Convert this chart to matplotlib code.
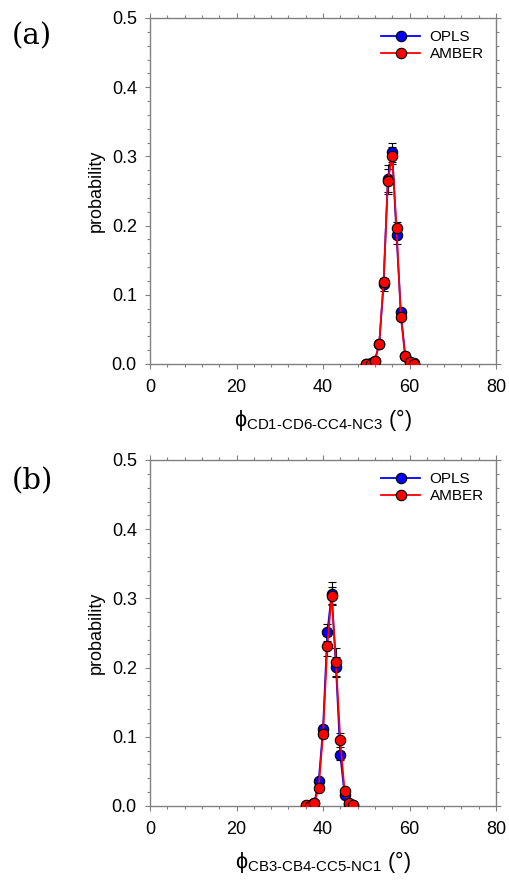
import numpy as np
import matplotlib
matplotlib.use('Agg')
import matplotlib.pyplot as plt
from matplotlib.ticker import MultipleLocator, FormatStrFormatter

plt.rcParams['font.family'] = ['Liberation Sans', 'DejaVu Sans']
plt.rcParams['mathtext.fontset'] = 'custom'
plt.rcParams['mathtext.rm'] = 'Liberation Sans'
plt.rcParams['mathtext.it'] = 'Liberation Sans:italic'

# panel (a): CD1-CD6-CC4-NC3
angle_a = [50, 51, 52, 53, 54, 55, 56, 57, 58, 59, 60, 61]
opls_a = [0.000, 0.001, 0.005, 0.029, 0.115, 0.268, 0.306, 0.186, 0.075, 0.012, 0.003, 0.001]
opls_a_err = [0.0, 0.0, 0.001, 0.003, 0.010, 0.020, 0.014, 0.012, 0.005, 0.002, 0.0, 0.0]
amber_a = [0.000, 0.000, 0.005, 0.029, 0.119, 0.264, 0.301, 0.197, 0.068, 0.011, 0.003, 0.000]
amber_a_err = [0.0, 0.0, 0.001, 0.002, 0.006, 0.018, 0.012, 0.008, 0.004, 0.002, 0.0, 0.0]

# panel (b): CB3-CB4-CC5-NC1
angle_b = [36, 37, 38, 39, 40, 41, 42, 43, 44, 45, 46, 47]
opls_b = [0.000, 0.001, 0.004, 0.036, 0.111, 0.251, 0.307, 0.201, 0.073, 0.016, 0.003, 0.001]
opls_b_err = [0.0, 0.0, 0.001, 0.003, 0.006, 0.012, 0.016, 0.014, 0.006, 0.003, 0.0, 0.0]
amber_b = [0.001, 0.000, 0.005, 0.026, 0.104, 0.231, 0.304, 0.208, 0.095, 0.021, 0.004, 0.001]
amber_b_err = [0.0, 0.0, 0.001, 0.002, 0.006, 0.014, 0.012, 0.020, 0.010, 0.003, 0.0, 0.0]

labels_x = ['ϕ' + r'$_{\mathrm{CD1\text{-}CD6\text{-}CC4\text{-}NC3}}$' + ' (°)',
            'ϕ' + r'$_{\mathrm{CB3\text{-}CB4\text{-}CC5\text{-}NC1}}$' + ' (°)']
panel_tags = ['(a)', '(b)']

fig = plt.figure(figsize=(5.1, 8.84), dpi=100)
ax_a = fig.add_axes([150/510, 1-364/884, 346/510, 346/884])
ax_b = fig.add_axes([150/510, 1-806/884, 346/510, 346/884])

panels = [(ax_a, angle_a, opls_a, opls_a_err, amber_a, amber_a_err),
          (ax_b, angle_b, opls_b, opls_b_err, amber_b, amber_b_err)]

for i, (ax, x, yo, eo, ya, ea) in enumerate(panels):
    ax.errorbar(x, yo, yerr=eo, fmt='none', ecolor='black', elinewidth=0.8,
                capsize=3, capthick=0.8, zorder=1)
    ax.errorbar(x, ya, yerr=ea, fmt='none', ecolor='black', elinewidth=0.8,
                capsize=3, capthick=0.8, zorder=1)
    ax.plot(x, yo, '-o', color='#0000ff', lw=1.3, ms=7.5, mfc='#0000ff',
            mec='black', mew=0.8, label='OPLS', zorder=3)
    ax.plot(x, ya, '-o', color='#ff0000', lw=1.3, ms=7.5, mfc='#ff0000',
            mec='black', mew=0.8, label='AMBER', zorder=4)

    ax.set_xlim(0, 80)
    ax.set_ylim(0, 0.5)
    ax.xaxis.set_major_locator(MultipleLocator(20))
    ax.xaxis.set_minor_locator(MultipleLocator(4))
    ax.yaxis.set_major_locator(MultipleLocator(0.1))
    ax.yaxis.set_minor_locator(MultipleLocator(0.02))
    ax.yaxis.set_major_formatter(FormatStrFormatter('%.1f'))
    ax.tick_params(which='both', direction='out', top=True, right=True,
                   colors='#808080', labelcolor='black', labelsize=13)
    ax.tick_params(which='major', length=3.5, width=0.8)
    ax.tick_params(which='minor', length=2.5, width=0.8)
    ax.tick_params(axis='x', pad=7)
    ax.tick_params(axis='y', pad=6)
    ax.tick_params(labeltop=False, labelright=False)
    for s in ax.spines.values():
        s.set_color('#808080')
        s.set_linewidth(1.0)

    ax.set_ylabel('probability', fontsize=13, labelpad=5)
    ax.set_xlabel(labels_x[i], fontsize=15.5, labelpad=8)
    ax.legend(loc='upper right', frameon=False, fontsize=11, handlelength=2.6,
              borderaxespad=0.4, labelspacing=0.2, handletextpad=0.6)

fig.text(12/510, 1-36/884, panel_tags[0], fontsize=21, family='DejaVu Serif',
         va='center', ha='left')
fig.text(12/510, 1-481/884, panel_tags[1], fontsize=21, family='DejaVu Serif',
         va='center', ha='left')

fig.savefig('out.png', dpi=100)
